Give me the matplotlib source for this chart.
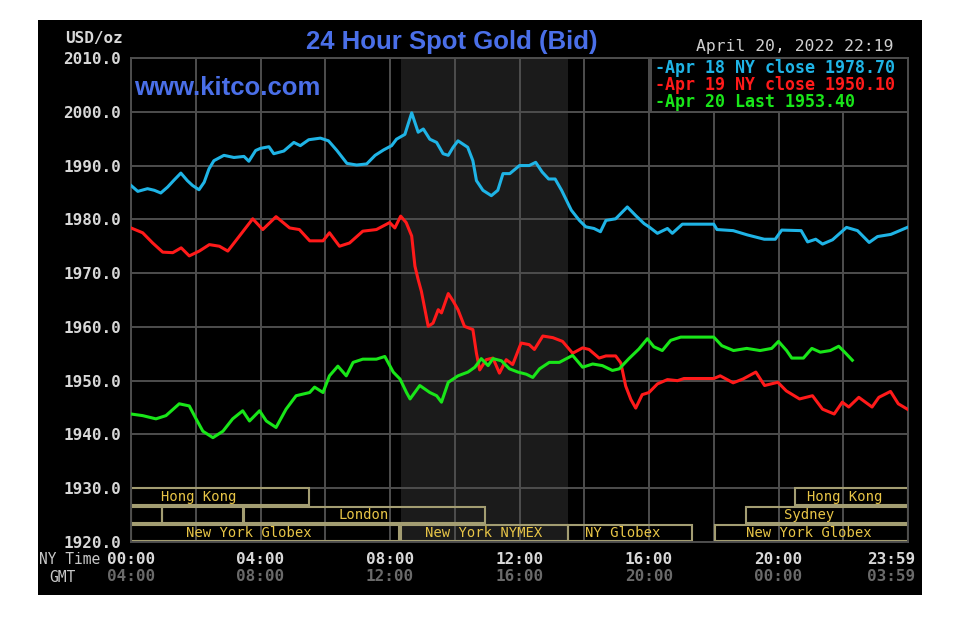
import numpy as np
import matplotlib
matplotlib.use("Agg")
import matplotlib.pyplot as plt
from matplotlib.patches import Rectangle

### data (hours NY time, USD/oz)

apr18_t = [0, 0.21, 0.51, 0.72, 0.92, 1.13, 1.33, 1.54, 1.74, 1.9, 2.1, 2.26, 2.41, 2.56, 2.87,
           3.18, 3.49, 3.64, 3.85, 4.0, 4.26, 4.41, 4.72, 5.03, 5.23, 5.49, 5.85, 6.1, 6.36, 6.67,
           6.97, 7.28, 7.54, 7.8, 8.05, 8.2, 8.46, 8.67, 8.87, 9.03, 9.23, 9.44, 9.64, 9.8, 9.95,
           10.1, 10.4, 10.56, 10.67, 10.87, 11.13, 11.33, 11.49, 11.7, 12.0, 12.3, 12.5, 12.7, 12.9,
           13.1, 13.3, 13.6, 13.85, 14.05, 14.3, 14.5, 14.67, 14.97, 15.33, 15.59, 15.85, 16.0,
           16.26, 16.57, 16.72, 17.03, 18.0, 18.1, 18.6, 19.04, 19.56, 19.9, 20.1, 20.7, 20.9,
           21.15, 21.36, 21.67, 22.1, 22.44, 22.8, 23.06, 23.47, 23.98]
apr18_v = [1986.3, 1985.2, 1985.7, 1985.4, 1984.9, 1986.0, 1987.3, 1988.6, 1987.2, 1986.3, 1985.5,
           1986.9, 1989.4, 1990.9, 1991.9, 1991.5, 1991.7, 1990.8, 1992.8, 1993.2, 1993.5, 1992.2,
           1992.7, 1994.3, 1993.7, 1994.8, 1995.1, 1994.6, 1992.8, 1990.4, 1990.1, 1990.3, 1991.9,
           1992.9, 1993.7, 1994.9, 1995.8, 1999.8, 1996.2, 1996.8, 1994.9, 1994.3, 1992.2, 1991.9,
           1993.4, 1994.6, 1993.4, 1990.9, 1987.2, 1985.4, 1984.4, 1985.4, 1988.5, 1988.5, 1990.0,
           1990.0, 1990.6, 1988.8, 1987.5, 1987.5, 1985.4, 1981.7, 1979.8, 1978.6, 1978.3, 1977.7,
           1979.8, 1980.1, 1982.3, 1980.7, 1979.2, 1978.6, 1977.4, 1978.3, 1977.4, 1979.1, 1979.1,
           1978.1, 1977.9, 1977.1, 1976.3, 1976.3, 1978.0, 1977.9, 1975.8, 1976.3, 1975.4, 1976.2,
           1978.5, 1977.9, 1975.7, 1976.8, 1977.2, 1978.5]

apr19_t = [0, 0.36, 0.67, 0.98, 1.29, 1.55, 1.8, 2.11, 2.42, 2.73, 2.99, 3.35, 3.76, 4.07, 4.48,
           4.9, 5.2, 5.52, 5.93, 6.13, 6.44, 6.75, 7.16, 7.58, 7.99, 8.15, 8.33, 8.5, 8.67, 8.77,
           8.87, 8.97, 9.08, 9.18, 9.33, 9.49, 9.59, 9.8, 9.95, 10.1, 10.3, 10.56, 10.67, 10.77,
           10.97, 11.18, 11.38, 11.59, 11.79, 12.05, 12.3, 12.46, 12.72, 13.03, 13.33, 13.64,
           13.95, 14.15, 14.46, 14.67, 14.97, 15.13, 15.28, 15.44, 15.59, 15.79, 16.0, 16.26,
           16.57, 16.88, 17.08, 18.0, 18.2, 18.6, 18.9, 19.3, 19.57, 19.98, 20.24, 20.65, 21.05,
           21.36, 21.72, 21.97, 22.17, 22.48, 22.89, 23.1, 23.46, 23.7, 23.98]
apr19_v = [1978.4, 1977.5, 1975.6, 1973.9, 1973.8, 1974.7, 1973.2, 1974.1, 1975.3, 1975.0, 1974.1,
           1976.9, 1980.1, 1978.1, 1980.5, 1978.4, 1978.1, 1976.0, 1976.0, 1977.5, 1975.0, 1975.6,
           1977.8, 1978.1, 1979.4, 1978.4, 1980.6, 1979.4, 1976.9, 1971.3, 1968.8, 1966.6, 1963.2,
           1960.1, 1960.7, 1963.2, 1962.6, 1966.2, 1964.8, 1963.2, 1960.1, 1959.5, 1955.1, 1952.0,
           1953.9, 1954.2, 1951.4, 1953.9, 1953.0, 1957.0, 1956.7, 1955.8, 1958.3, 1958.0, 1957.3,
           1955.1, 1956.1, 1955.8, 1954.2, 1954.6, 1954.6, 1953.3, 1949.0, 1946.5, 1944.9, 1947.4,
           1947.8, 1949.4, 1950.2, 1950.0, 1950.4, 1950.4, 1950.9, 1949.6, 1950.3, 1951.6, 1949.1,
           1949.7, 1948.1, 1946.6, 1947.2, 1944.7, 1943.8, 1946.0, 1945.1, 1946.9, 1945.1, 1946.9,
           1948.0, 1945.7, 1944.7]

apr20_t = [0, 0.36, 0.77, 1.08, 1.49, 1.8, 2.01, 2.22, 2.53, 2.84, 3.14, 3.45, 3.66, 3.97, 4.18,
           4.48, 4.79, 5.1, 5.52, 5.67, 5.93, 6.13, 6.39, 6.65, 6.86, 7.16, 7.58, 7.84, 8.1, 8.31,
           8.51, 8.62, 8.92, 9.23, 9.44, 9.59, 9.8, 10.1, 10.41, 10.62, 10.82, 11.03, 11.18, 11.44,
           11.69, 11.95, 12.21, 12.41, 12.62, 12.92, 13.23, 13.64, 13.95, 14.26, 14.56, 14.87,
           15.08, 15.38, 15.69, 15.95, 16.15, 16.41, 16.67, 16.98, 18.0, 18.25, 18.61, 19.02,
           19.43, 19.79, 20.0, 20.25, 20.41, 20.77, 21.03, 21.29, 21.6, 21.86, 22.06, 22.28]
apr20_v = [1943.8, 1943.5, 1942.9, 1943.5, 1945.7, 1945.3, 1942.9, 1940.6, 1939.4, 1940.6, 1942.9,
           1944.4, 1942.5, 1944.4, 1942.5, 1941.3, 1944.7, 1947.2, 1947.8, 1948.8, 1947.8, 1950.9,
           1952.7, 1950.9, 1953.4, 1954.0, 1954.0, 1954.5, 1951.6, 1950.3, 1947.8, 1946.6, 1949.1,
           1947.8, 1947.2, 1946.0, 1949.7, 1950.9, 1951.6, 1952.5, 1954.1, 1952.8, 1954.1, 1953.7,
           1952.2, 1951.6, 1951.2, 1950.6, 1952.2, 1953.4, 1953.4, 1954.7, 1952.5, 1953.1, 1952.8,
           1951.9, 1952.2, 1954.1, 1955.9, 1957.8, 1956.3, 1955.6, 1957.5, 1958.1, 1958.1, 1956.5,
           1955.6, 1956.0, 1955.6, 1956.0, 1957.3, 1955.6, 1954.2, 1954.2, 1956.0, 1955.3, 1955.6,
           1956.4, 1955.2, 1953.8]

legend_labels = ["-Apr 18 NY close 1978.70",
                 "-Apr 19 NY close 1950.10",
                 "-Apr 20 Last 1953.40"]

ny_ticks = [0, 4, 8, 12, 16, 20, 23.98]
ny_labels = ["00:00", "04:00", "08:00", "12:00", "16:00", "20:00", "23:59"]
gmt_labels = ["04:00", "08:00", "12:00", "16:00", "20:00", "00:00", "03:59"]

# trading sessions : start, end, row (0 = top), label
sess_start = [0, 20.5, 0, 0.96, 3.5, 19.0, 0, 8.33, 13.5, 18.04]
sess_end = [5.5, 24, 0.96, 3.47, 10.93, 24, 8.28, 13.5, 17.33, 24]
sess_row = [0, 0, 1, 1, 1, 1, 2, 2, 2, 2]
sess_name = ["Hong Kong", "Hong Kong", "", "", "London", "Sydney",
             "New York Globex", "New York NYMEX", "NY Globex", "New York Globex"]

nymex_open = 8.33
nymex_close = 13.5

###colours / fonts
C18 = "#1fb4e6"
C19 = "#ff1a1a"
C20 = "#19e619"
BLUE = "#4a6fe8"
GRID = "#4e4e4e"
MONO = "DejaVu Sans Mono"

W, H = 960, 622
fig = plt.figure(figsize=(W/100, H/100), dpi=100, facecolor="white")
fig.patches.append(Rectangle((38/W, 1-595/H), (922-38)/W, (595-20)/H,
                             transform=fig.transFigure, facecolor="black", edgecolor="none", zorder=-1))

ax = fig.add_axes([131/W, 1-542/H, 777/W, 484/H])
ax.set_facecolor("black")
ax.set_xlim(0, 24)
ax.set_ylim(1920, 2010)

ax.set_xticks(np.arange(0, 25, 2))
ax.set_xticklabels([])
ax.set_yticks(np.arange(1920, 2011, 10))
ax.set_yticklabels(["%.1f" % v for v in np.arange(1920, 2011, 10)],
                   fontfamily=MONO, fontweight="bold", fontsize=11.5, color="#d8d8d8")
ax.tick_params(length=0, pad=7)
ax.grid(True, color=GRID, linewidth=1.4)
ax.set_axisbelow(True)
for s in ax.spines.values():
    s.set_color(GRID)
    s.set_linewidth(1.4)

# NYMEX shading
ax.axvspan(nymex_open, nymex_close, color="#1b1b1b", zorder=0.5, linewidth=0)

# session boxes
row_lo = [1926.8, 1923.5, 1920.1]
row_hi = [1930.0, 1926.6, 1923.2]
label_x = [2.1, 22.05, None, None, 7.2, 20.95, 3.65, 10.9, 15.2, 20.95]
for i in range(len(sess_start)):
    r = sess_row[i]
    ax.add_patch(Rectangle((sess_start[i], row_lo[r]), sess_end[i]-sess_start[i], row_hi[r]-row_lo[r],
                           facecolor="none", edgecolor="#a39d72", linewidth=1.5, zorder=2))
    if sess_name[i]:
        ax.text(label_x[i], (row_lo[r]+row_hi[r])/2, sess_name[i], ha="center", va="center",
                fontfamily=MONO, fontsize=10, color="#e8c547", zorder=3)

ax.plot(apr18_t, apr18_v, color=C18, linewidth=2.2, zorder=3)
ax.plot(apr19_t, apr19_v, color=C19, linewidth=2.2, zorder=3)
ax.plot(apr20_t, apr20_v, color=C20, linewidth=2.2, zorder=3)

# legend box
ax.add_patch(Rectangle((16.06, 2000), 24-16.06, 10, facecolor="black", edgecolor=GRID,
                       linewidth=1.4, zorder=4))
for lab, col, yy in zip(legend_labels, [C18, C19, C20], [2008.1, 2005.0, 2001.8]):
    ax.text(16.2, yy, lab, color=col, fontfamily=MONO, fontweight="bold", fontsize=12,
            ha="left", va="center", zorder=5)

# x labels, two rows (last one sits left of the edge like the original)
tr = ax.get_xaxis_transform()
for x, a, b in zip(ny_ticks, ny_labels, gmt_labels):
    xx = min(x, 23.47)
    ax.text(xx, -0.037, a, transform=tr, ha="center", va="center", fontfamily=MONO,
            fontweight="bold", fontsize=11.5, color="#d8d8d8", clip_on=False)
    ax.text(xx, -0.072, b, transform=tr, ha="center", va="center", fontfamily=MONO,
            fontweight="bold", fontsize=11.5, color="#6a6a6a", clip_on=False)
fig.text(100/W, 1-560/H, "NY Time", ha="right", va="center", fontfamily=MONO, fontsize=10.5, color="#c8c8c8")
fig.text(76/W, 1-577/H, "GMT", ha="right", va="center", fontfamily=MONO, fontsize=10.5, color="#c8c8c8")

fig.text(123/W, 1-38/H, "USD/oz", ha="right", va="center", fontfamily=MONO, fontweight="bold",
         fontsize=11.5, color="#d8d8d8")
fig.text(452/W, 1-42/H, "24 Hour Spot Gold (Bid)", ha="center", va="center",
         fontfamily="Liberation Sans", fontweight="bold", fontsize=18.5, color=BLUE)
fig.text(893/W, 1-47/H, "April 20, 2022 22:19", ha="right", va="center", fontfamily=MONO,
         fontsize=11.8, color="#d0d0d0")
fig.text(134/W, 1-88/H, "www.kitco.com", ha="left", va="center", fontfamily="Liberation Sans",
         fontweight="bold", fontsize=18.5, color=BLUE, zorder=5)

plt.savefig("out.png", dpi=100, facecolor="white")
